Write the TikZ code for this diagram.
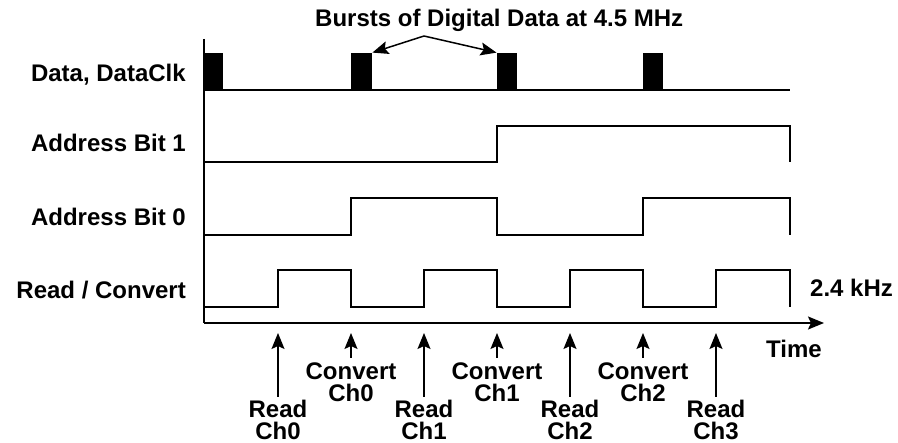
\documentclass[tikz,border=0pt]{standalone}
\usepackage{fontspec}
\setmainfont{Liberation Sans}
\usetikzlibrary{arrows.meta}
\begin{document}
\begin{tikzpicture}[x=1pt,y=-1pt,
  sig/.style={line width=1.8pt, line join=miter},
  axisline/.style={line width=1.8pt},
  lbl/.style={font=\fontsize{24}{22}\selectfont\bfseries, inner sep=0pt},
  tick/.style={line width=1.5pt, -{Stealth[length=16pt,width=13pt,inset=3pt]}},
  burst/.style={fill=black, draw=none, inner sep=0pt, minimum width=19pt, minimum height=37pt}]
\useasboundingbox (0,0) rectangle (898,443);

% axes
\coordinate (vtop) at (204,39);
\coordinate (org) at (204,323);
\coordinate (tend) at (824,323);
\draw[axisline] (vtop) -- (org);
\draw[axisline, -{Stealth[length=16pt,width=13pt,inset=3pt]}] (org) -- (tend);

% row labels
\node[lbl, anchor=base east] (ldata) at (186,82) {Data, DataClk};
\node[lbl, anchor=base east] (lab1) at (186,152) {Address Bit 1};
\node[lbl, anchor=base east] (lab0) at (186,226) {Address Bit 0};
\node[lbl, anchor=base east] (lrc) at (186,299) {Read / Convert};

% data line and bursts
\draw[sig] (204,90) -- (790,90);
\node[burst, anchor=south west] (b1) at (204,90) {};
\node[burst, anchor=south west, minimum width=21pt] (b2) at (351,90) {};
\node[burst, anchor=south west, minimum width=20pt] (b3) at (496.5,90) {};
\node[burst, anchor=south west, minimum width=20pt] (b4) at (643,90) {};

% title and burst arrows
\node[lbl, anchor=base west] (title) at (315,27) {Bursts of Digital Data at 4.5 MHz};
\coordinate (apex) at (424,36);
\draw[tick] (apex) -- (b2.north east);
\draw[tick] (apex) -- (b3.north west);

% Address Bit 1
\draw[sig] (204,162) -- (497,162) -- (497,126) -- (790,126) -- (790,162);
% Address Bit 0
\draw[sig] (204,235) -- (351,235) -- (351,198) -- (497,198) -- (497,235)
  -- (643,235) -- (643,198) -- (790,198) -- (790,235);
% Read / Convert
\draw[sig] (204,307) -- (278,307) -- (278,270) -- (351,270) -- (351,307)
  -- (424,307) -- (424,270) -- (497,270) -- (497,307)
  -- (570,307) -- (570,270) -- (643,270) -- (643,307)
  -- (716,307) -- (716,270) -- (790,270) -- (790,307);

\node[lbl, anchor=base west] (freq) at (810,297) {2.4 kHz};
\node[lbl, anchor=base east] (time) at (822,358) {Time};

% event labels
\node[lbl, anchor=north, align=center] (r0) at (278,400) {Read\\Ch0};
\node[lbl, anchor=north, align=center] (c0) at (351,363) {Convert\\Ch0};
\node[lbl, anchor=north, align=center] (r1) at (424,400) {Read\\Ch1};
\node[lbl, anchor=north, align=center] (c1) at (497,363) {Convert\\Ch1};
\node[lbl, anchor=north, align=center] (r2) at (570,400) {Read\\Ch2};
\node[lbl, anchor=north, align=center] (c2) at (643,363) {Convert\\Ch2};
\node[lbl, anchor=north, align=center] (r3) at (716,400) {Read\\Ch3};

\foreach \n in {r0,r1,r2,r3}{
  \draw[tick] ([yshift=3pt]\n.north) -- ([yshift=67pt]\n.north);
}
\foreach \n in {c0,c1,c2}{
  \draw[tick] ([yshift=5pt]\n.north) -- ([yshift=30pt]\n.north);
}
\end{tikzpicture}
\end{document}
